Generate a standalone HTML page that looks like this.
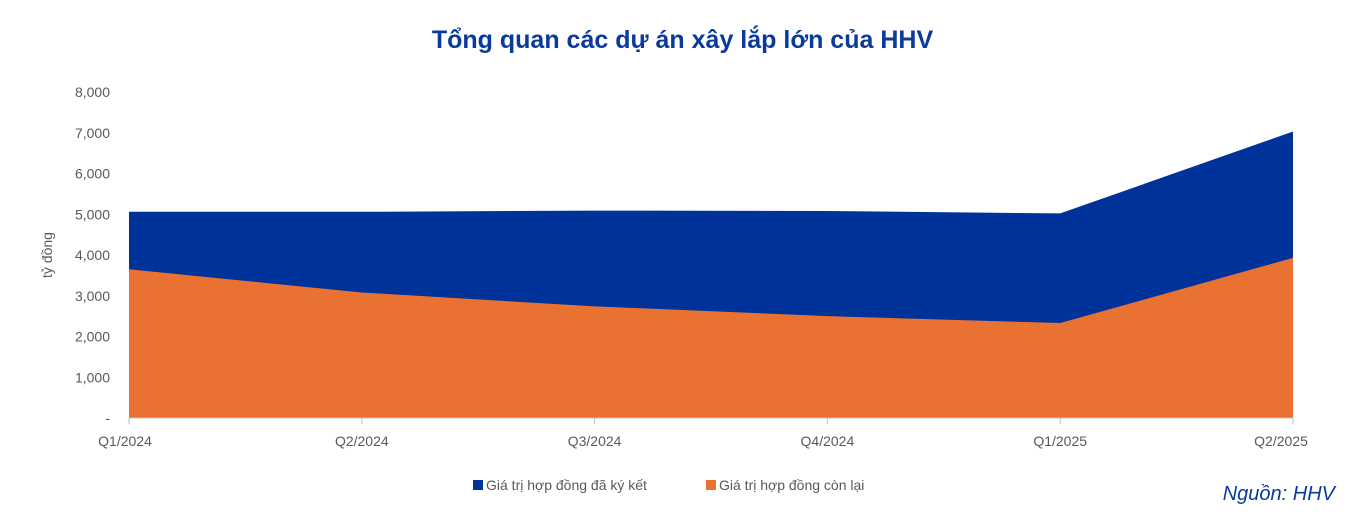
<!DOCTYPE html>
<html><head><meta charset="utf-8">
<style>
body{margin:0;width:1365px;height:520px;background:#fff;font-family:"Liberation Sans",sans-serif;overflow:hidden;position:relative}
#title{position:absolute;left:0;width:1365px;top:26px;text-align:center;color:#0a3a9c;font-size:25px;font-weight:bold}
#src{position:absolute;right:30px;top:483px;color:#0a3a9c;font-size:20px;font-style:italic}
</style></head><body>
<div id="title">Tổng quan các dự án xây lắp lớn của HHV</div>
<svg id="chart" width="1365" height="520" style="position:absolute;left:0;top:0"></svg>
<div id="src">Nguồn: HHV</div>
<script>
const categories=["Q1/2024","Q2/2024","Q3/2024","Q4/2024","Q1/2025","Q2/2025"];
const signedValues=[5060,5060,5090,5080,5020,7030];
const remainingValues=[3650,3080,2740,2500,2330,3930];
const yTicks=[0,1000,2000,3000,4000,5000,6000,7000,8000];
const yTickLabels=["-","1,000","2,000","3,000","4,000","5,000","6,000","7,000","8,000"];
const NS="http://www.w3.org/2000/svg";
const svg=document.getElementById('chart');
const x0=129,x1=1293,y0=418,yTop=92,yMax=8000;
function xs(i){return x0+(x1-x0)*i/(categories.length-1);}
function ys(v){return y0-(y0-yTop)*v/yMax;}
function mk(t,a){const e=document.createElementNS(NS,t);for(const k in a)e.setAttribute(k,a[k]);svg.appendChild(e);return e;}
function area(vals){let d=`M${xs(0)},${ys(0)}`;vals.forEach((v,i)=>d+=` L${xs(i)},${ys(v)}`);d+=` L${xs(vals.length-1)},${ys(0)} Z`;return d;}
let p=mk('path',{d:area(signedValues),fill:'#00339a'});


p=mk('path',{d:area(remainingValues),fill:'#e97132'});


yTicks.forEach((v,i)=>{const t=mk('text',{x:110,y:ys(v)+5,'text-anchor':'end','font-size':'14',fill:'#595959'});t.textContent=yTickLabels[i];

});
mk('line',{x1:x0,x2:x1,y1:y0,y2:y0,stroke:'#bfbfbf','stroke-width':1});
categories.forEach((c,i)=>{mk('line',{x1:xs(i),x2:xs(i),y1:y0,y2:y0+6,stroke:'#bfbfbf'});
const t=mk('text',{x:xs(i)+(i==0?-4:i==categories.length-1?-12:0),y:446,'text-anchor':'middle','font-size':'14',fill:'#595959'});t.textContent=c;

});
const yt=mk('text',{x:0,y:0,transform:'translate(52,255) rotate(-90)','text-anchor':'middle','font-size':'14',fill:'#595959'});yt.textContent='tỷ đồng';


[[473,'#00339a','Giá trị hợp đồng đã ký kết'],[706,'#e97132','Giá trị hợp đồng còn lại']].forEach(([x,c,l])=>{
const g=mk('g',{});
const r=document.createElementNS(NS,'rect');r.setAttribute('x',x);r.setAttribute('y',480);r.setAttribute('width',10);r.setAttribute('height',10);r.setAttribute('fill',c);g.appendChild(r);
const t=document.createElementNS(NS,'text');t.setAttribute('x',x+13);t.setAttribute('y',490);t.setAttribute('font-size','14');t.setAttribute('fill','#595959');t.textContent=l;g.appendChild(t);});
</script>
</body></html>
